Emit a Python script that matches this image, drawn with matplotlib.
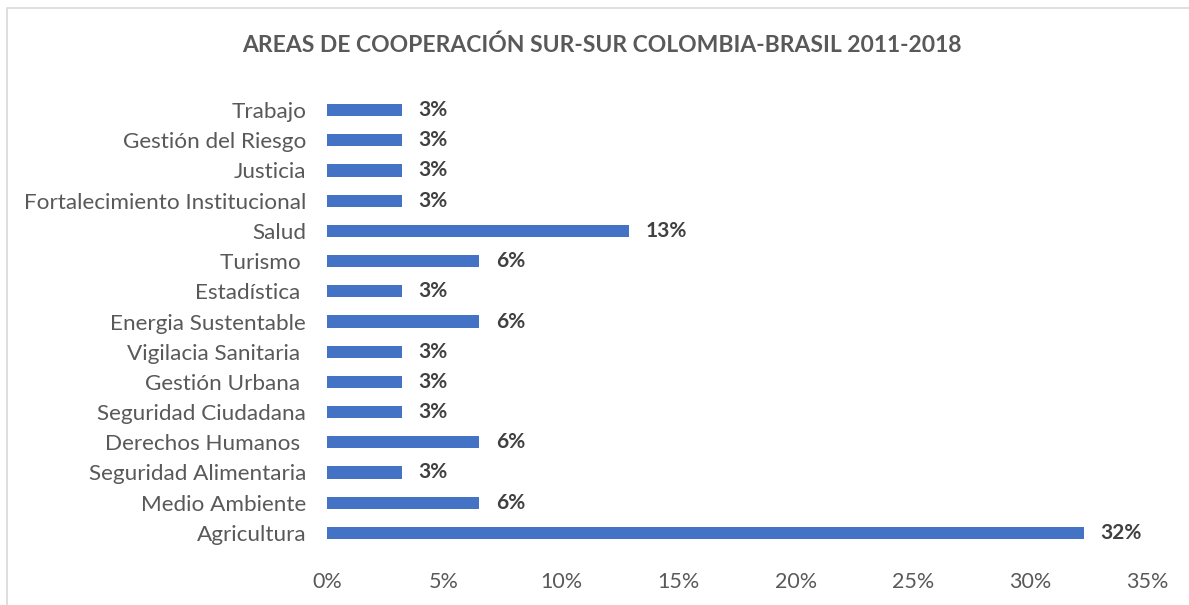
import matplotlib.pyplot as plt
from matplotlib.patches import Rectangle

plt.rcParams['font.family'] = ['Lato', 'DejaVu Sans']

areas = ["Trabajo", "Gestión del Riesgo", "Justicia", "Fortalecimiento Institucional",
         "Salud", "Turismo ", "Estadística ", "Energia Sustentable",
         "Vigilacia Sanitaria ", "Gestión Urbana ", "Seguridad Ciudadana",
         "Derechos Humanos ", "Seguridad Alimentaria", "Medio Ambiente", "Agricultura"]
porcentajes = [3.2, 3.2, 3.2, 3.2, 12.9, 6.5, 3.2, 6.5, 3.2, 3.2, 3.2, 6.5, 3.2, 6.5, 32.3]
ticks = [0, 5, 10, 15, 20, 25, 30, 35]

fig = plt.figure(figsize=(11.89, 6.05), dpi=100)
ax = fig.add_axes([327/1189, 1 - 548/605, (1147 - 327)/1189, (548 - 95)/605])

y = list(range(len(areas)))
ax.barh(y, porcentajes, height=0.4, color="#4472C4")
for yi, v in zip(y, porcentajes):
    ax.text(v + 0.7, yi, f"{round(v)}%", va="center", ha="left",
            fontsize=15, fontweight="bold", color="#404040")

ax.set_ylim(len(areas) - 0.5, -0.5)
ax.set_xlim(0, 35)
ax.set_yticks(y)
ax.set_yticklabels(areas, fontsize=16.2, color="#595959")
ax.set_xticks(ticks)
ax.set_xticklabels([f"{t}%" for t in ticks], fontsize=15.5, color="#595959")
ax.tick_params(length=0)
ax.tick_params(axis="y", pad=15)
ax.tick_params(axis="x", pad=17)
for s in ax.spines.values():
    s.set_visible(False)

fig.text(602/1189, 1 - 45/605, "AREAS DE COOPERACIÓN SUR-SUR COLOMBIA-BRASIL 2011-2018",
         ha="center", va="center", fontsize=16.5, fontweight="bold", color="#595959")

fig.patches.append(Rectangle((7/1189, -0.1), 1.2, 1 - 8/605 + 0.1, transform=fig.transFigure,
                             fill=False, edgecolor="#D9D9D9", linewidth=1.2))

fig.savefig("out.png", dpi=100)
